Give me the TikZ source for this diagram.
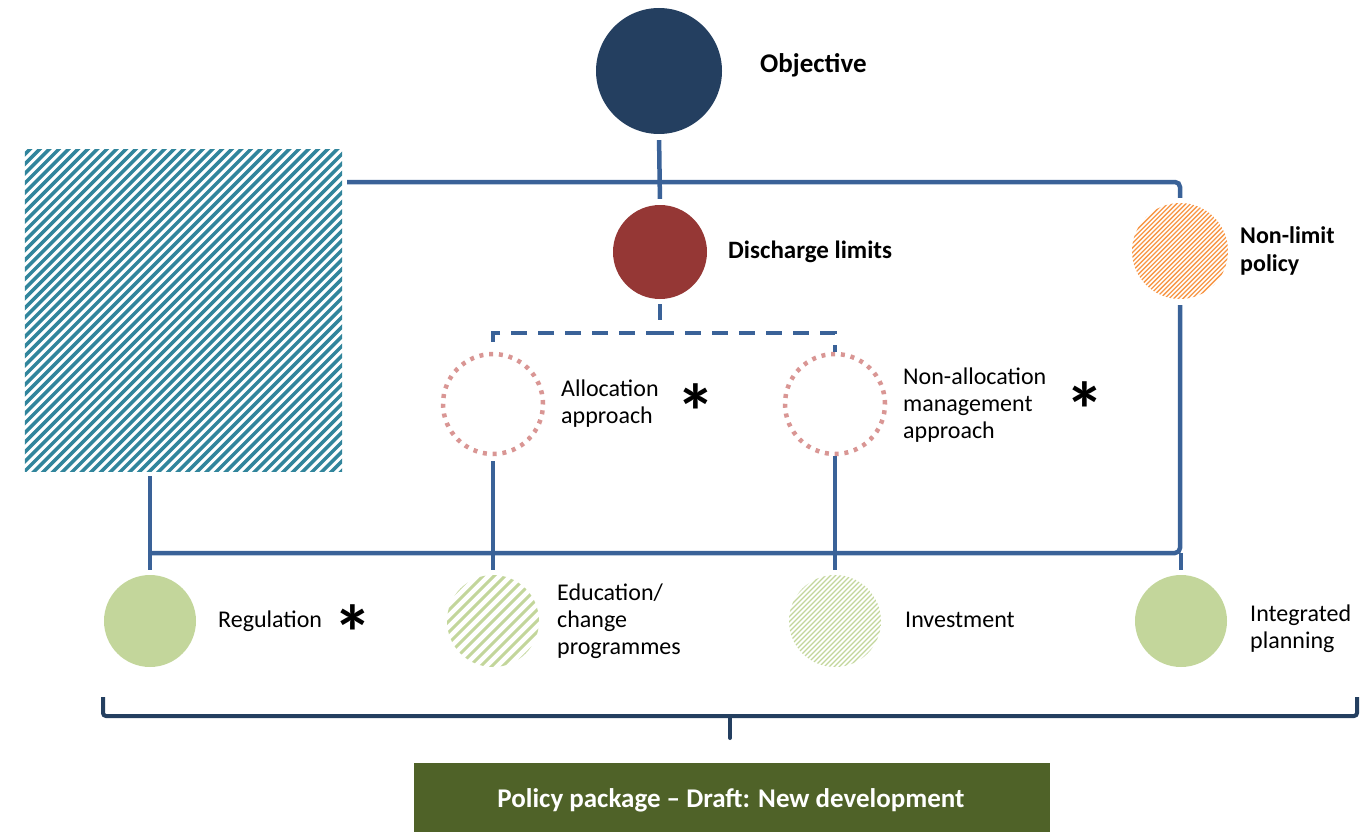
\documentclass[tikz,border=0pt]{standalone}
\usepackage{fontspec}
\setmainfont{Carlito}
\definecolor{navy}{HTML}{243F60}
\definecolor{linec}{HTML}{3A6298}
\definecolor{maroon}{HTML}{953735}
\definecolor{tealh}{HTML}{31859C}
\definecolor{orangeh}{HTML}{F79646}
\definecolor{greenc}{HTML}{C3D69B}
\definecolor{pinkd}{HTML}{D99694}
\definecolor{bracec}{HTML}{243F60}
\definecolor{boxc}{HTML}{4F6228}
\newcommand\hatchcircle[5]{%
  \begin{scope}
    \clip (#1.center) circle (#2pt);
    \foreach \k in {-30,...,30}
      \draw[#5, line width=#4] ([shift={({\k*#3-#2-4},{#2+4})}]#1.center) -- ++({2*#2+8},{-2*#2-8});
  \end{scope}}
\begin{document}
\begin{tikzpicture}[x=1pt,y=-1pt,
  conn/.style={draw=linec, line width=4.5pt},
  dconn/.style={draw=linec, line width=4.5pt, dash pattern=on 16pt off 11pt},
  txt/.style={anchor=west, inner sep=0pt, align=left, font=\fontsize{24}{27}\selectfont},
  btxt/.style={txt, font=\fontsize{24}{28}\selectfont\bfseries},
  star/.style={inner sep=0pt, font=\fontsize{78}{78}\selectfont\bfseries},
  dot/.style={circle, inner sep=0pt, minimum size=#1}
]
\useasboundingbox (0,0) rectangle (1370,832);

% nodes
\node[dot=126pt, fill=navy] (obj) at (659,71) {};
\node[dot=94pt, fill=maroon] (dis) at (660,252) {};
\node[dot=96pt] (nonlim) at (1180,251) {};
\node[dot=100pt, draw=pinkd, line width=4.5pt, dash pattern=on 4pt off 5.8pt] (alloc) at (493,404) {};
\node[dot=100pt, draw=pinkd, line width=4.5pt, dash pattern=on 4pt off 5.8pt] (nalloc) at (835,404) {};
\node[dot=92pt, fill=greenc] (reg) at (150,621) {};
\node[dot=92pt] (edu) at (493,621) {};
\node[dot=92pt] (inv) at (835,621) {};
\node[dot=92pt, fill=greenc] (integ) at (1181,621) {};
\node[rectangle, inner sep=0pt, minimum width=317pt, minimum height=321pt] (rect) at (183.5,310.5) {};
\node[rectangle, inner sep=0pt, minimum width=636pt, minimum height=70pt, fill=boxc] (pkg) at (732,798) {};
\node[inner sep=0pt, text=white, font=\fontsize{27}{30}\selectfont\bfseries] (tpkg) at (731,800) {Policy package -- Draft: New development};

% hatching
\begin{scope}
  \clip (rect.south west) rectangle (rect.north east);
  \foreach \k in {0,...,72}
    \draw[tealh, line width=3.5pt] ({\k*9.6-320},480) -- ++(345,-345);
\end{scope}
\hatchcircle{nonlim}{48}{4.6}{1.3pt}{orangeh}
\hatchcircle{edu}{46}{11}{3pt}{greenc}
\hatchcircle{inv}{46}{5}{1.3pt}{greenc}

% coordinates
\coordinate (hub) at (659,182);
\coordinate (bus) at (659,553);
\coordinate (brl) at (103,697);
\coordinate (brr) at (1357,697);
\coordinate (brm) at (730,716);

% connectors
\draw[conn, shorten <=6pt, shorten >=6pt] (obj.south) -- (dis.north);
\draw[conn, rounded corners=5pt, shorten <=5pt, shorten >=5pt] (rect.east |- hub) -| (nonlim.north);
\draw[dconn, shorten <=5pt] (dis.south) -- ++(0,34) -| (alloc.north);
\draw[dconn, shorten <=5pt] (dis.south) -- ++(0,34) -| (nalloc.north);
\draw[conn, shorten <=5pt] (reg |- rect.south) -- (reg |- bus);
\draw[conn, shorten >=5pt] (reg |- bus) -- (reg.north);
\draw[conn, rounded corners=5pt, shorten <=6pt] (nonlim.south) |- (reg |- bus);
\draw[conn, shorten >=5pt] (integ |- bus) -- (integ.north);
\draw[conn, shorten <=5pt, shorten >=5pt] (alloc.south) -- (edu.north);
\draw[conn, shorten <=0pt, shorten >=5pt] (nalloc.south) -- (inv.north);

% brace
\draw[bracec, line width=4pt, rounded corners=3pt] (brl) -- (brl |- brm) -- (brr |- brm) -- (brr);
\draw[bracec, line width=4pt, line cap=round] (brm) -- ++(0,22);

% labels
\node[btxt, font=\fontsize{27}{30}\selectfont\bfseries] (tobj) at (760,65) {Objective};
\node[btxt, font=\fontsize{25}{28}\selectfont\bfseries] (tdis) at (728,252) {Discharge limits};
\node[btxt] (tnl) at (1240,251) {Non-limit\\policy};
\node[txt] (tal) at (561,404) {Allocation\\approach};
\node[txt] (tnal) at (903,405) {Non-allocation\\management\\approach};
\node[txt] (treg) at (218,621) {Regulation};
\node[txt] (tedu) at (557,621) {Education/\\change\\programmes};
\node[txt] (tinv) at (905,620) {Investment};
\node[txt] (tint) at (1250,629) {Integrated\\planning};
\node[star] (s1) at (696,412) {*};
\node[star] (s2) at (1085,410) {*};
\node[star] (s3) at (353,633) {*};
\end{tikzpicture}
\end{document}
